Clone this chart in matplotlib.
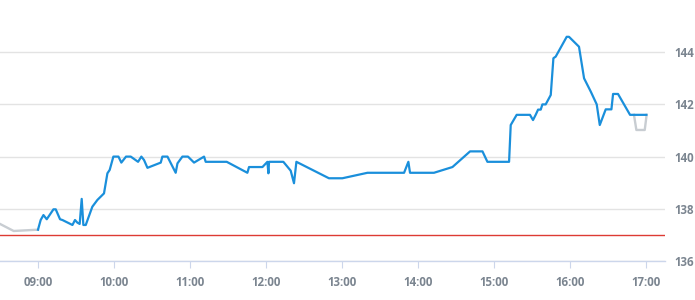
import matplotlib.pyplot as plt

# minutes after 09:00 and price
pre_minutes = [-30, -19.2, 0]
pre_price = [137.42, 137.15, 137.2]

minutes = [0, 2.1, 4.3, 6.9, 12.2, 14.0, 17.4, 19.3, 27.2, 29.2, 31.1, 32.9, 34.5, 35.8, 37.7,
           42.9, 46.9, 52.1, 54.8, 56.6, 59.5, 63.5, 65.8, 69.5, 73.2, 79.0, 81.6, 83.7, 86.4,
           96.9, 98.2, 102.2, 108.7, 110.1, 114.0, 118.4, 123.2, 131.1, 132.4, 149.0, 165.3,
           166.6, 177.2, 181.1, 181.9, 182.4, 193.7, 199.5, 202.1, 204.0, 229.7, 240.3, 260.1,
           289.0, 292.4, 293.7, 312.6, 327.2, 341.1, 350.9, 354.8, 371.9, 373.2, 377.9, 388.4,
           390.8, 392.9, 394.8, 396.9, 398.2, 400.8, 404.8, 406.9, 408.7, 417.4, 419.2, 427.1,
           431.1, 436.4, 441.1, 443.5, 448.2, 452.7, 454.0, 457.9, 467.4, 480.3]
price = [137.2, 137.57, 137.76, 137.6, 137.98, 137.98, 137.6, 137.57, 137.38, 137.57, 137.47,
         137.42, 138.38, 137.38, 137.38, 138.08, 138.34, 138.59, 139.36, 139.49, 140.0, 140.0,
         139.77, 140.0, 140.0, 139.8, 140.0, 139.87, 139.57, 139.77, 140.0, 140.0, 139.38,
         139.74, 140.0, 140.0, 139.77, 140.0, 139.8, 139.8, 139.38, 139.6, 139.6, 139.8, 139.36,
         139.8, 139.8, 139.46, 138.98, 139.8, 139.17, 139.17, 139.38, 139.38, 139.8, 139.38,
         139.38, 139.6, 140.2, 140.2, 139.8, 139.8, 141.21, 141.6, 141.6, 141.4, 141.6, 141.8,
         141.8, 142.0, 142.0, 142.36, 143.77, 143.83, 144.59, 144.59, 144.21, 143.0, 142.49,
         142.0, 141.21, 141.81, 141.81, 142.4, 142.4, 141.6, 141.6]

post_minutes = [470.5, 472.4, 479.0, 480.5]
post_price = [141.6, 141.02, 141.02, 141.6]

prev_close = 137.0

hour_ticks = [0, 60, 120, 180, 240, 300, 360, 420, 480]
hour_labels = ['09:00', '10:00', '11:00', '12:00', '13:00', '14:00', '15:00', '16:00', '17:00']
y_ticks = [136, 138, 140, 142, 144]

plt.rcParams['font.family'] = ['Open Sans', 'DejaVu Sans']

fig = plt.figure(figsize=(6.95, 3.0), dpi=100)
ax = fig.add_axes([0, 0.13, 665 / 695, 0.87])

ax.plot(pre_minutes, pre_price, color='#c8cdd2', linewidth=1.7, zorder=3)
ax.plot(post_minutes, post_price, color='#c8cdd2', linewidth=1.7, zorder=3)
ax.plot(minutes, price, color='#1a8fdb', linewidth=1.6, zorder=4)
ax.axhline(prev_close, color='#dd3b33', linewidth=1.0, zorder=2)

ax.set_xlim(-30, 495)
ax.set_ylim(136, 146)

for s in ['top', 'right', 'left']:
    ax.spines[s].set_visible(False)
ax.spines['bottom'].set_color('#ccd6eb')
ax.spines['bottom'].set_linewidth(1.0)

ax.set_xticks(hour_ticks)
ax.set_xticklabels(hour_labels)
ax.set_yticks(y_ticks)
ax.yaxis.tick_right()
ax.grid(axis='y', color='#e3e3e3', linewidth=1.0, zorder=0)
ax.tick_params(axis='x', length=5, color='#ccd6eb', pad=6, labelsize=8.3, labelcolor='#7b8590')
ax.tick_params(axis='y', length=0, pad=7, labelsize=8.3, labelcolor='#7b8590')
for lab in ax.get_xticklabels() + ax.get_yticklabels():
    lab.set_fontweight('bold')

fig.savefig('out.png', dpi=100)
